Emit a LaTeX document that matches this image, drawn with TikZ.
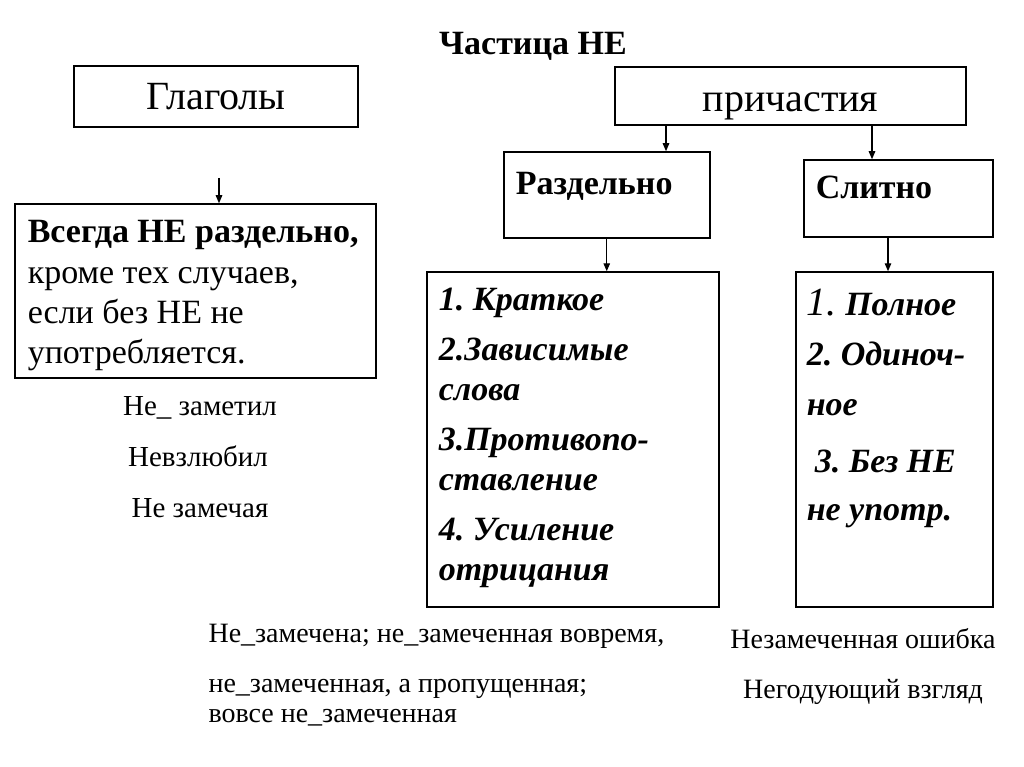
\documentclass[tikz,border=0pt]{standalone}
\usepackage{fontspec}
\setmainfont{Liberation Serif}
\usetikzlibrary{arrows.meta}
\frenchspacing

\begin{document}
\begin{tikzpicture}[x=1pt,y=-1pt,
	box/.style={draw,line width=1.5pt,inner ysep=0pt,inner xsep=12pt},
	arr/.style={line width=1.2pt,-{Triangle[length=8pt,width=6.5pt]}}]
	\useasboundingbox (0,0) rectangle (1024,767);

	\node[anchor=base,font=\bfseries\fontsize{34}{34}\selectfont] (title) at (533,55) {Частица НЕ};

	% upper boxes
	\node[box,anchor=base,minimum width=284,text height=44,text depth=17,font=\fontsize{40}{40}\selectfont] (verbs) at (216,110) {Глаголы};
	\node[box,anchor=base,minimum width=351,text height=45,text depth=13,font=\fontsize{40}{40}\selectfont] (part) at (790.5,112) {причастия};

	\node[box,anchor=base west,text width=182,text height=43,text depth=43,align=flush left,font=\bfseries\fontsize{34}{34}\selectfont] (razd) at (503,195) {Раздельно};
	\node[box,anchor=base west,text width=165,text height=39,text depth=38,align=flush left,font=\bfseries\fontsize{34}{34}\selectfont] (slit) at (803,199) {Слитно};

	\coordinate (pl) at (666,0);
	\coordinate (pr) at (872,0);
	\coordinate (sl) at (888,0);
	\draw[arr] (part.south -| pl) -- (razd.north -| pl);
	\draw[arr] (part.south -| pr) -- (slit.north -| pr);

	% verbs
	\node[box,anchor=base west,inner xsep=13pt,text width=335,text height=39,text depth=135,align=flush left,font=\fontsize{34}{40}\selectfont] (always) at (14,243)
		{{\bfseries Всегда НЕ раздельно,}\\ кроме тех случаев,\\ если без НЕ не\\ употребляется.};
	\coordinate (vtop) at (219,178);
	\draw[arr] (vtop) -- (vtop |- always.north);

	\node[anchor=base,font=\fontsize{29}{29}\selectfont] (ex1) at (200,415) {Не\_ заметил};
	\node[anchor=base,font=\fontsize{29}{29}\selectfont] (ex2) at (198,466) {Невзлюбил};
	\node[anchor=base,font=\fontsize{29}{29}\selectfont] (ex3) at (200,517) {Не замечая};

	% participle lists
	\node[box,anchor=base west,text width=268,text height=38,text depth=297,align=flush left,font=\bfseries\itshape\fontsize{34}{40}\selectfont] (lsep) at (426,310)
		{1. Краткое\\[10pt] 2.Зависимые\\ слова\\[10pt] 3.Противопо-\\ ставление\\[10pt] 4. Усиление\\ отрицания};
	\node[box,anchor=base west,inner xsep=11pt,text width=175,text height=43,text depth=292,align=flush left,font=\bfseries\itshape\fontsize{34}{50}\selectfont] (ljoin) at (795,315)
		{{\mdseries\fontsize{40}{50}\selectfont 1.} Полное\\ 2. Одиноч-\\ ное\\[7pt] \hspace*{8pt}3. Без НЕ\\[-2pt] не употр.};
	\draw[arr] (razd.south) -- (razd.south |- lsep.north);
	\draw[arr] (slit.south -| sl) -- (ljoin.north -| sl);

	% examples
	\node[anchor=base west,font=\fontsize{28}{28}\selectfont] (sep1) at (205,642) {Не\_замечена; не\_замеченная вовремя,};
	\node[anchor=base west,font=\fontsize{28}{28}\selectfont] (sep2) at (205,692) {не\_замеченная, а пропущенная;};
	\node[anchor=base west,font=\fontsize{28}{28}\selectfont] (sep3) at (205,722) {вовсе не\_замеченная};
	\node[anchor=base,font=\fontsize{28}{28}\selectfont] (join1) at (863,648) {Незамеченная ошибка};
	\node[anchor=base,font=\fontsize{28}{28}\selectfont] (join2) at (863,698) {Негодующий взгляд};
\end{tikzpicture}
\end{document}
